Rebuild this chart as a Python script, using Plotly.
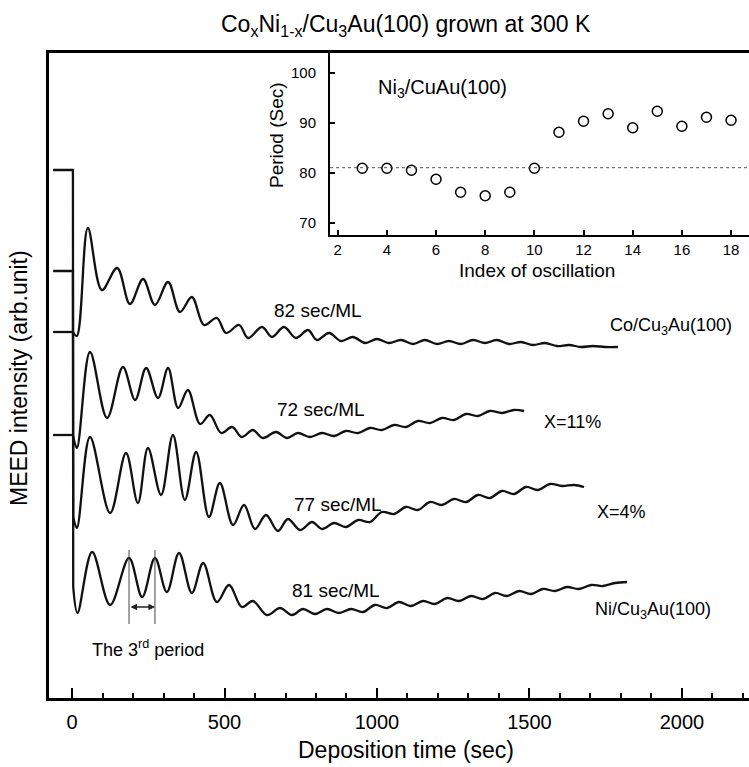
import plotly.graph_objects as go

W, H = 749, 767
FONT = "Liberation Sans, Arial, sans-serif"

# ---------------- data ----------------
# pre-deposition intensity levels (t < 0)
pre_t = [-62, 3]
ni_pre, x4_pre, x11_pre, co_pre = 597, 496, 332, 435

# Ni/Cu3Au(100)
ni_t = [4, 18, 66, 125, 187, 230, 272, 311, 351, 393, 430, 475, 515, 557, 593, 639, 682, 721, 757, 797,
        836, 875, 915, 954, 993, 1033, 1072, 1111, 1151, 1190, 1230, 1269, 1308, 1348, 1387, 1426, 1466, 1505, 1544, 1584,
        1623, 1662, 1702, 1741, 1780, 1820]
ni_I = [180, 154, 215, 162, 209, 170, 209, 175, 214, 174, 204, 165, 182, 160, 166, 152, 159, 152, 158, 153,
        158, 154, 158, 155, 162, 159, 165, 161, 166, 163, 169, 166, 171, 168, 174, 171, 176, 173, 178, 176,
        180, 178, 182, 181, 184, 185]

# X = 4%
x4_t = [4, 16, 59, 125, 177, 216, 249, 292, 331, 370, 407, 449, 485, 528, 564, 600, 636, 675, 708, 748,
        787, 820, 859, 898, 938, 977, 1016, 1056, 1095, 1134, 1174, 1213, 1252, 1292, 1331, 1370, 1410, 1449, 1489, 1528,
        1567, 1607, 1646, 1679]
x4_I = [250, 239, 330, 254, 314, 264, 319, 272, 332, 267, 315, 250, 284, 242, 262, 238, 252, 236, 248, 237,
        245, 238, 244, 240, 247, 245, 255, 253, 260, 257, 265, 262, 268, 265, 272, 269, 276, 273, 280, 277,
        283, 281, 282, 280]

# X = 11%
x11_t = [3, 16, 59, 115, 167, 207, 243, 282, 315, 348, 380, 420, 452, 489, 525, 557, 593, 626, 669, 705,
         741, 780, 820, 859, 898, 938, 977, 1016, 1056, 1095, 1134, 1174, 1213, 1252, 1292, 1331, 1370, 1410, 1449, 1482]
x11_I = [332, 319, 415, 349, 400, 367, 399, 369, 399, 359, 377, 343, 352, 334, 340, 330, 337, 329, 335, 329,
         334, 330, 334, 331, 336, 334, 339, 337, 342, 340, 346, 344, 349, 347, 353, 351, 356, 354, 357, 356]

# Co/Cu3Au(100)
co_t = [3, 16, 52, 98, 148, 190, 233, 272, 315, 354, 393, 433, 475, 505, 548, 577, 623, 656, 695, 734,
        774, 803, 843, 882, 921, 961, 1000, 1039, 1079, 1118, 1157, 1197, 1236, 1275, 1315, 1354, 1393, 1433, 1472, 1511,
        1551, 1590, 1630, 1669, 1708, 1748, 1790]
co_I = [435, 431, 539, 477, 499, 463, 488, 462, 485, 455, 470, 442, 449, 434, 442, 429, 440, 430, 440, 429,
        437, 427, 434, 426, 430, 424, 428, 424, 427, 423, 427, 423, 426, 423, 427, 424, 427, 423, 425, 422,
        424, 421, 422, 420, 421, 420, 420]

# 3rd period markers (Ni peaks 2 and 3) and arrow level
period_marks = [187, 272]
period_mark_I = [143, 217]
period_arrow_I = 160

# inset: period vs. index of oscillation
osc_index = [3, 4, 5, 6, 7, 8, 9, 10, 11, 12, 13, 14, 15, 16, 17, 18]
osc_period = [80.9, 80.9, 80.5, 78.7, 76.1, 75.4, 76.1, 80.9, 88.1, 90.3, 91.8, 89.0, 92.3, 89.3, 91.1, 90.5]
ref_period = 81

main_xticks = [0, 500, 1000, 1500, 2000]
inset_xticks = [2, 4, 6, 8, 10, 12, 14, 16, 18]
inset_yticks = [70, 80, 90, 100]

# ---------------- figure ----------------
fig = go.Figure()
LW = 2.3
LC = "#111111"

curves = [
    (ni_pre, ni_t, ni_I),
    (x4_pre, x4_t, x4_I),
    (x11_pre, x11_t, x11_I),
    (co_pre, co_t, co_I),
]
for lvl, tt, ii in curves:
    fig.add_trace(go.Scatter(x=pre_t + [tt[0]], y=[lvl, lvl, ii[0]], mode="lines",
                             line=dict(color=LC, width=LW), showlegend=False, xaxis="x", yaxis="y"))
    fig.add_trace(go.Scatter(x=tt, y=ii, mode="lines",
                             line=dict(color=LC, width=LW, shape="spline", smoothing=1.0),
                             showlegend=False, xaxis="x", yaxis="y"))

# period marker lines
for pm in period_marks:
    fig.add_trace(go.Scatter(x=[pm, pm], y=period_mark_I, mode="lines",
                             line=dict(color="#444444", width=1), showlegend=False, xaxis="x", yaxis="y"))

# inset data
fig.add_trace(go.Scatter(x=osc_index, y=osc_period, mode="markers",
                         marker=dict(symbol="circle-open", size=10, color="black", line=dict(width=1.5)),
                         showlegend=False, xaxis="x2", yaxis="y2"))

# layout helpers
def px(x):
    return x / W

def py(y):
    return 1 - y / H

fig.update_layout(
    width=W, height=H,
    margin=dict(l=0, r=0, t=0, b=0),
    paper_bgcolor="white", plot_bgcolor="rgba(0,0,0,0)",
    font=dict(family=FONT, color="black"),
    xaxis=dict(domain=[px(49), 1], range=[-75.4, 2219.7], anchor="y",
               showline=True, linewidth=2.5, linecolor="black", mirror=True,
               tickvals=main_xticks, ticks="inside", ticklen=10, tickwidth=2, tickcolor="black",
               tickfont=dict(size=20), ticklabelstandoff=4,
               minor=dict(dtick=100, tick0=0, ticks="inside", ticklen=5, tickwidth=1.5, tickcolor="black"),
               showgrid=False, zeroline=False),
    yaxis=dict(domain=[py(698), py(53)], range=[69, 714], anchor="x",
               showline=True, linewidth=2.5, linecolor="black",
               showticklabels=False, ticks="", showgrid=False, zeroline=False),
    xaxis2=dict(domain=[px(330), 1], range=[1.687, 18.73], anchor="y2",
                showline=True, linewidth=2, linecolor="black",
                tickvals=inset_xticks, ticks="inside", ticklen=5, tickwidth=2, tickcolor="black",
                tickfont=dict(size=15), ticklabelstandoff=0,
                showgrid=False, zeroline=False),
    yaxis2=dict(domain=[py(235), py(53)], range=[67.54, 103.94], anchor="x2",
                showline=True, linewidth=2, linecolor="black",
                tickvals=inset_yticks, ticks="inside", ticklen=5, tickwidth=2, tickcolor="black",
                tickfont=dict(size=15), ticklabelstandoff=9,
                showgrid=False, zeroline=False),
)

# reference dashed line in inset
fig.add_shape(type="line", xref="x2 domain", yref="y2", x0=0, x1=1, y0=ref_period, y1=ref_period,
              line=dict(color="#555555", width=1, dash="dot"))

# 3rd-period double arrow
fig.add_annotation(x=period_marks[1], y=period_arrow_I, ax=period_marks[0], ay=period_arrow_I,
                   xref="x", yref="y", axref="x", ayref="y", text="", showarrow=True,
                   arrowhead=2, arrowsize=1, arrowwidth=1.3, arrowside="end+start", arrowcolor="#222222")

def label(text, x, y, size, angle=0):
    fig.add_annotation(text=text, x=px(x), y=py(y), xref="paper", yref="paper",
                       showarrow=False, xanchor="center", yanchor="middle",
                       textangle=angle, font=dict(size=size, family=FONT, color="black"))

label("Co<sub>x</sub>Ni<sub>1-x</sub>/Cu<sub>3</sub>Au(100) grown at 300 K", 406, 25, 23)
label("Deposition time (sec)", 406, 750, 23)
label("MEED intensity (arb.unit)", 19, 378, 23, angle=-90)
label("Period (Sec)", 277, 135, 19, angle=-90)
label("Index of oscillation", 537, 270, 19)
label("Ni<sub>3</sub>/CuAu(100)", 442, 89, 20)
label("82 sec/ML", 318, 310, 19)
label("72 sec/ML", 321, 410, 19)
label("77 sec/ML", 338, 505, 19)
label("81 sec/ML", 336, 590, 19)
label("Co/Cu<sub>3</sub>Au(100)", 671, 327, 18)
label("X=11%", 572, 422, 18)
label("X=4%", 621, 512, 18)
label("Ni/Cu<sub>3</sub>Au(100)", 653, 610, 18)
label("The 3<sup>rd</sup> period", 148, 648, 18)

fig.write_html("out.html")
